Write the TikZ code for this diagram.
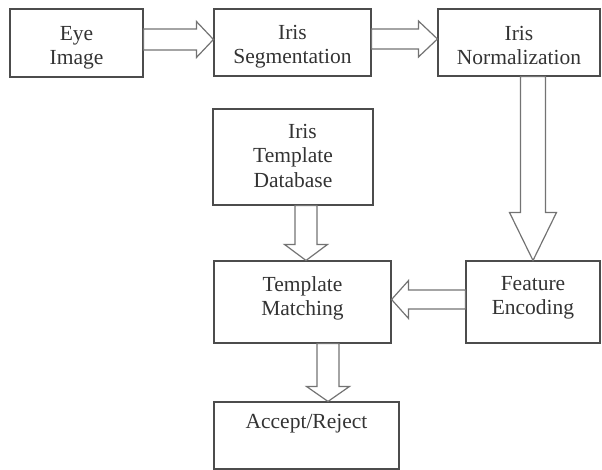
\documentclass[tikz,border=0pt]{standalone}
\usepackage{fontspec}
\setmainfont{Liberation Serif}
\usetikzlibrary{positioning,calc}

% hollow block arrow: start, end, shaft half width, head half width, head length
\newcommand{\fatarrow}[5]{%
  \draw [fat] let \p1=($(#2)-(#1)$), \n1={veclen(\x1,\y1)}, \n2={atan2(\y1,\x1)} in
    [shift={(#1)}, rotate=\n2] (0pt,#3pt) -- (\n1-#5pt,#3pt) -- (\n1-#5pt,#4pt) -- (\n1,0pt)
    -- (\n1-#5pt,-#4pt) -- (\n1-#5pt,-#3pt) -- (0pt,-#3pt) -- cycle;}

\begin{document}
\begin{tikzpicture}[x=1pt,y=-1pt,
  box/.style={draw=black!70, line width=1.1pt, inner sep=0pt},
  txt/.style={inner sep=0pt, align=center, text=black!80,
    font=\fontsize{21.5pt}{24.5pt}\selectfont},
  fat/.style={draw=black!55, line width=1.2pt, line join=miter}]
	\useasboundingbox (0,0) rectangle (602,470);
	% boxes
	\node [box, minimum width=133pt, minimum height=68pt] (eye) at (76.5,43) {};
	\node [box, minimum width=157pt, minimum height=67pt] (seg) at (292.5,42.5) {};
	\node [box, minimum width=162pt, minimum height=67pt] (norm) at (519,42.5) {};
	\node [box, minimum width=160pt, minimum height=96pt] (db) at (293,157) {};
	\node [box, minimum width=177pt, minimum height=82pt] (tm) at (302.5,302) {};
	\node [box, minimum width=134pt, minimum height=82pt] (fe) at (533,302) {};
	\node [box, minimum width=185pt, minimum height=67pt] (acc) at (306.5,435.5) {};
	% texts
	\node [txt, below=17.5pt of eye.north] (eye-t) {Eye\\Image};
	\node [txt, below=16.5pt of seg.north] (seg-t) {Iris\\Segmentation};
	\node [txt, below=17.5pt of norm.north] (norm-t) {Iris\\Normalization};
	\node [txt, below=15.5pt of db.north] (db-t) {\hspace*{19pt}Iris\\Template\\Database};
	\node [txt, below=15.5pt of tm.north] (tm-t) {Template\\Matching};
	\node [txt, below=15.5pt of fe.north] (fe-t) {Feature\\Encoding};
	\node [txt, below=12.5pt of acc.north] (acc-t) {Accept/Reject};
	% arrows
	\coordinate (a1s) at ($(eye.east)+(0,-3.5)$);
	\coordinate (a1e) at (a1s -| seg.west);
	\fatarrow{a1s}{a1e}{10.5}{18}{17}
	\coordinate (a2s) at ($(seg.east)+(0,-3.5)$);
	\coordinate (a2e) at (a2s -| norm.west);
	\fatarrow{a2s}{a2e}{10}{18}{19}
	\coordinate (a3s) at (norm.south -| fe.north);
	\fatarrow{a3s}{fe.north}{12.5}{23.5}{48}
	\coordinate (a4e) at ($(tm.north)+(3.5,0)$);
	\coordinate (a4s) at (a4e |- db.south);
	\fatarrow{a4s}{a4e}{11}{21.5}{16}
	\coordinate (a5e) at ($(acc.north)+(21.5,0)$);
	\coordinate (a5s) at (a5e |- tm.south);
	\fatarrow{a5s}{a5e}{11}{21.5}{15}
	\coordinate (a6s) at ($(fe.west)+(0,-2.5)$);
	\coordinate (a6e) at (a6s -| tm.east);
	\fatarrow{a6s}{a6e}{9.5}{19}{17}
\end{tikzpicture}
\end{document}
